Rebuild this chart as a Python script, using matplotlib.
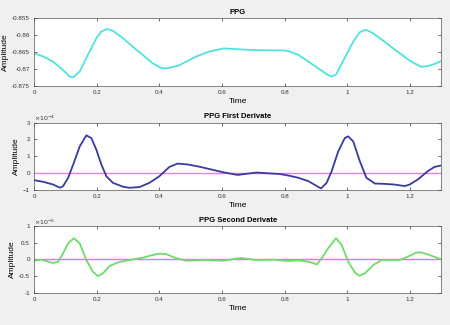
import matplotlib
matplotlib.use("Agg")
import matplotlib.pyplot as plt

# PPG signal
t_ppg = [0.0, 0.03, 0.061, 0.093, 0.114, 0.125, 0.146, 0.172, 0.199, 0.215, 0.233, 0.252, 0.284, 0.315, 0.347, 0.379, 0.405, 0.421, 0.46, 0.52, 0.56, 0.606, 0.66, 0.711, 0.797, 0.813, 0.844, 0.876, 0.908, 0.934, 0.95, 0.965, 0.991, 1.019, 1.04, 1.059, 1.082, 1.119, 1.161, 1.204, 1.236, 1.257, 1.278, 1.3]
v_ppg = [-0.8653, -0.8663, -0.8678, -0.8703, -0.8722, -0.8724, -0.8707, -0.8658, -0.8609, -0.8589, -0.8582, -0.8587, -0.8609, -0.8634, -0.8658, -0.8683, -0.8696, -0.8698, -0.8690, -0.8662, -0.8648, -0.8639, -0.8642, -0.8644, -0.8645, -0.8647, -0.8658, -0.8678, -0.8698, -0.8715, -0.8722, -0.8715, -0.8668, -0.8619, -0.8591, -0.8584, -0.8594, -0.8619, -0.8649, -0.8678, -0.8693, -0.8691, -0.8685, -0.8676]

# First derivative (x1e-4)
t_d1 = [0.0, 0.03, 0.061, 0.083, 0.093, 0.109, 0.125, 0.146, 0.167, 0.183, 0.199, 0.215, 0.231, 0.252, 0.284, 0.305, 0.337, 0.368, 0.4, 0.432, 0.458, 0.49, 0.527, 0.603, 0.65, 0.71, 0.786, 0.813, 0.844, 0.876, 0.903, 0.916, 0.934, 0.95, 0.971, 0.992, 1.003, 1.019, 1.04, 1.061, 1.088, 1.119, 1.151, 1.183, 1.199, 1.225, 1.257, 1.278, 1.3]
v_d1 = [-0.41, -0.51, -0.67, -0.86, -0.76, -0.27, 0.51, 1.59, 2.24, 2.08, 1.39, 0.51, -0.18, -0.57, -0.8, -0.86, -0.82, -0.57, -0.18, 0.37, 0.57, 0.52, 0.39, 0.06, -0.1, 0.04, -0.05, -0.14, -0.27, -0.47, -0.76, -0.9, -0.57, 0.12, 1.29, 2.08, 2.18, 1.88, 0.71, -0.27, -0.61, -0.63, -0.67, -0.76, -0.67, -0.37, 0.12, 0.37, 0.46]

# Second derivative (x1e-5)
t_d2 = [0.0, 0.024, 0.046, 0.061, 0.077, 0.093, 0.109, 0.127, 0.146, 0.167, 0.188, 0.204, 0.22, 0.241, 0.268, 0.305, 0.347, 0.379, 0.4, 0.421, 0.452, 0.485, 0.548, 0.603, 0.66, 0.71, 0.764, 0.813, 0.844, 0.876, 0.903, 0.918, 0.939, 0.964, 0.982, 1.003, 1.024, 1.038, 1.056, 1.083, 1.109, 1.141, 1.167, 1.193, 1.219, 1.235, 1.262, 1.3]
v_d2 = [-0.04, -0.01, -0.07, -0.11, -0.07, 0.18, 0.48, 0.63, 0.48, -0.02, -0.37, -0.5, -0.42, -0.2, -0.09, -0.02, 0.05, 0.13, 0.17, 0.16, 0.04, -0.04, -0.02, -0.04, 0.04, -0.02, -0.01, -0.05, -0.03, -0.07, -0.15, 0.03, 0.33, 0.63, 0.43, -0.07, -0.39, -0.49, -0.42, -0.17, -0.02, -0.02, -0.02, 0.08, 0.2, 0.21, 0.13, 0.0]

titles = ["PPG", "PPG First Derivate", "PPG Second Derivate"]
x_ticks = [0, 0.2, 0.4, 0.6, 0.8, 1, 1.2]
x_ticklabels = ["0", "0.2", "0.4", "0.6", "0.8", "1", "1.2"]
y1_ticks = [-0.875, -0.87, -0.865, -0.86, -0.855]
y1_labels = ["-0.875", "-0.87", "-0.865", "-0.86", "-0.855"]
y2_ticks = [-1, 0, 1, 2, 3]
y3_ticks = [-1, -0.5, 0, 0.5, 1]
y3_labels = ["-1", "-0.5", "0", "0.5", "1"]

fig = plt.figure(figsize=(4.5, 3.25), dpi=100, facecolor="#f0f0f0")
plt.rcParams['font.family'] = ['Liberation Sans', 'DejaVu Sans']

boxes = [
    [0.0756, 0.735, 0.905, 0.209],
    [0.0756, 0.415, 0.905, 0.208],
    [0.0756, 0.099, 0.905, 0.206],
]
axes = [fig.add_axes(b) for b in boxes]

axes[0].plot(t_ppg, v_ppg, color="#4fe3dd", lw=1.3, solid_joinstyle="round")
axes[0].set_ylim(-0.875, -0.855)
axes[0].set_yticks(y1_ticks)
axes[0].set_yticklabels(y1_labels)

axes[1].axhline(0, color="#ee7cee", lw=1.0)
axes[1].plot(t_d1, v_d1, color="#3a3aa0", lw=1.3, solid_joinstyle="round")
axes[1].set_ylim(-1, 3)
axes[1].set_yticks(y2_ticks)
axes[1].text(0.0, 1.02, r"$\times10^{-4}$", transform=axes[1].transAxes, fontsize=4.5, color="#333333")

axes[2].axhline(0, color="#ee6cee", lw=1.0)
axes[2].plot(t_d2, v_d2, color="#6bdc6b", lw=1.3, solid_joinstyle="round")
axes[2].set_ylim(-1, 1)
axes[2].set_yticks(y3_ticks)
axes[2].set_yticklabels(y3_labels)
axes[2].text(0.0, 1.02, r"$\times10^{-5}$", transform=axes[2].transAxes, fontsize=4.5, color="#333333")

for ax, title in zip(axes, titles):
    ax.set_xlim(0, 1.3)
    ax.set_xticks(x_ticks)
    ax.set_xticklabels(x_ticklabels)
    ax.set_title(title, fontsize=5.5, fontweight="bold", pad=3)
    ax.set_xlabel("Time", fontsize=6, labelpad=2)
    ax.set_ylabel("Amplitude", fontsize=6, labelpad=2)
    ax.tick_params(direction="in", top=True, right=True, labelsize=4.5, length=2.5, width=0.5, pad=3, colors="#333333")
    for s in ax.spines.values():
        s.set_linewidth(0.5)
        s.set_color("#555555")

fig.savefig("out.png", dpi=100, facecolor=fig.get_facecolor())
